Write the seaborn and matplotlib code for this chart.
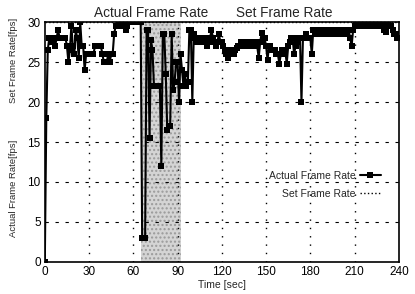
import numpy as np
import pandas as pd
import seaborn as sns
import matplotlib.pyplot as plt

# actual frame rate, one sample per second (t = 0..240)
actual_rate = [
    0, 18, 26.5, 28, 28, 27.5, 28, 27, 28, 29,
    28, 28, 28, 28, 28, 27, 25, 26.5, 29.5, 27,
    26, 29, 28, 25.5, 30, 27, 27, 24, 26, 26,
    26, 26, 26, 26, 27, 27, 27, 27, 27, 26,
    25, 25, 25, 26, 25, 26, 26, 28.5, 29.5, 29.5,
    30, 29.5, 29.5, 30, 29.5, 29, 29.5, 30, 30, 30,
    30, 30, 30, 30, 30, 30, 3, 3, 3, 29,
    29, 15.5, 27.7, 26.5, 22, 22, 22, 22, 22, 12,
    28.5, 28.5, 23.5, 16.5, 17, 17, 28.5, 21.5, 22.5, 25,
    25, 20, 26, 24, 22, 23.5, 22, 22.5, 29, 29,
    20, 28.5, 28, 27.5, 28, 27.5, 28, 28, 28, 27.5,
    27, 27.5, 28, 29, 28, 27.5, 27, 27.5, 28.5, 27.5,
    27.5, 27, 26.5, 26, 25.5, 26, 26.5, 26, 26, 26.5,
    26.7, 27, 27, 27.5, 27, 27, 27.5, 27, 27, 27.5,
    27.5, 27, 27.5, 27, 27, 25.5, 27.5, 28.6, 27.5, 28,
    27, 25.3, 27, 27, 26.5, 26.5, 26.5, 26, 26, 24.8,
    26, 26.5, 26, 26.5, 24.8, 27, 27.5, 28, 28, 26,
    27, 27.5, 28, 28, 20, 28, 28, 28.5, 28, 28,
    28, 26, 29, 29, 28.5, 29, 29, 28.5, 29, 29,
    28.5, 29, 29, 28.5, 29, 29, 28.5, 29, 29, 28.5,
    29, 29, 28.5, 29, 29, 28.5, 29, 28, 27, 29,
    29.5, 30, 29.5, 30, 29.5, 30, 29.5, 30, 29.5, 30,
    29.5, 30, 29.5, 30, 29.5, 30, 29.5, 30, 29.5, 30,
    29, 28.8, 29.5, 30, 29.5, 29.5, 29, 28.5, 28.5, 28,
    28,
]
time_sec = list(range(len(actual_rate)))
set_rate = [30] * len(actual_rate)

shade_start, shade_end = 65, 92
x_ticks = [0, 30, 60, 90, 120, 150, 180, 210, 240]
y_ticks = [0, 5, 10, 15, 20, 25, 30]

df = pd.DataFrame({"t": time_sec, "actual": actual_rate, "set": set_rate})

sns.set_theme(style="white")
plt.rcParams['font.family'] = ['Liberation Sans', 'DejaVu Sans']

fig = plt.figure(figsize=(4.15, 2.94), dpi=100)
ax = fig.add_axes([0.108, 0.109, 0.853, 0.816])

# shaded interval
ax.axvspan(shade_start, shade_end, facecolor="#d4d4d4", edgecolor="#9a9a9a",
           hatch="....", linewidth=0, zorder=0)

# grid
for yv in y_ticks[1:-1]:
    ax.axhline(yv, color="black", linestyle=(0, (3, 6)), linewidth=0.8, zorder=1)
for xv in x_ticks[1:-1]:
    ax.axvline(xv, color="black", linestyle=(0, (1, 5)), linewidth=1.0, zorder=1)

sns.lineplot(data=df, x="t", y="actual", ax=ax, color="black", linewidth=1.5,
             marker="s", markersize=4.5, markeredgewidth=0, estimator=None,
             label="Actual Frame Rate", zorder=3)
sns.lineplot(data=df, x="t", y="set", ax=ax, color="black", linewidth=1.0,
             linestyle=":", estimator=None, label="Set Frame Rate", zorder=2)
for line in ax.lines[-1:]:
    line.set_clip_on(False)

ax.set_xlim(0, 240)
ax.set_ylim(0, 30)
ax.set_xticks(x_ticks)
ax.set_yticks(y_ticks)
ax.tick_params(axis="both", labelsize=8.5, length=0, pad=3, colors="black")
for s in ax.spines.values():
    s.set_color("black")
    s.set_linewidth(1.2)

ax.set_xlabel("Time [sec]", fontsize=7.5, labelpad=1)
ax.set_ylabel("Actual Frame Rate[fps]" + " " * 14 + "Set Frame Rate[fps]",
              fontsize=6.8)
ax.yaxis.set_label_coords(-0.075, 0.56)

fig.text(0.365, 0.955, "Actual Frame Rate", fontsize=9.8, ha="center", va="center")
fig.text(0.686, 0.955, "Set Frame Rate", fontsize=9.8, ha="center", va="center")

leg = ax.legend(loc="upper right", bbox_to_anchor=(0.975, 0.42), frameon=False,
                markerfirst=False, fontsize=7.5, handlelength=2.0,
                handletextpad=0.4, labelspacing=0.8)

fig.savefig("out.png", dpi=100)
